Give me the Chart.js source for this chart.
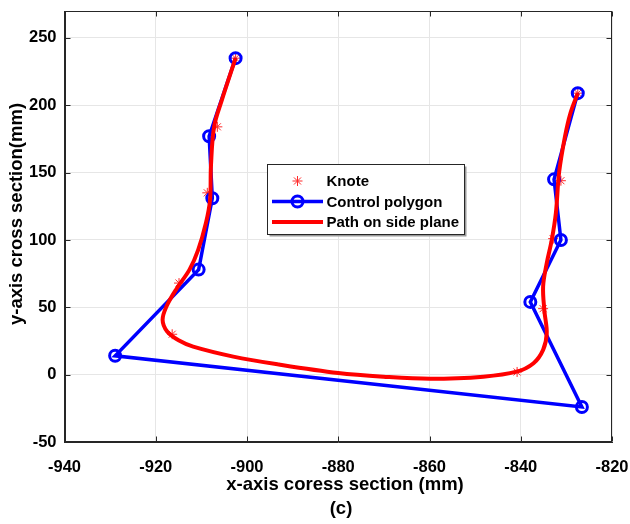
<!DOCTYPE html>
<html>
<head>
<meta charset="utf-8">
<script src="https://cdn.jsdelivr.net/npm/chart.js@4.4.1/dist/chart.umd.min.js"></script>
<style>
  html, body { margin: 0; padding: 0; background: #fff; }
  canvas { display: block; }
</style>
</head>
<body>
<canvas id="chart" width="630" height="524"></canvas>
<script>
// ---- data ----
const xTicks = [-940, -920, -900, -880, -860, -840, -820];
const yTicks = [-50, 0, 50, 100, 150, 200, 250];

const knotX = [-902.5, -906.5, -908.7, -914.9, -916.4, -840.8, -835.1, -832.9, -831.2, -827.5];
const knotY = [235, 184, 135, 68, 30, 2, 49, 101, 144, 209];

const polyX = [-902.5, -908.3, -907.6, -910.6, -928.9, -826.6, -837.9, -831.2, -832.7, -827.5];
const polyY = [235, 177, 131, 78, 14, -24, 54, 100, 145, 209];

const pathX = [-902.5, -905.5, -907.2, -907.9, -908.1, -909.0, -910.7, -912.6, -915.4,
  -917.6, -918.5, -917.5, -915.0, -911.8, -903.0, -893.0, -880.0,
  -870.1, -859.9, -848.2, -840.9, -837.2, -835.1, -834.3, -834.8, -835.1,
  -834.3, -833.2, -832.3, -831.6, -830.3, -829.1, -827.5];
const pathY = [235, 204, 184.3, 155, 129.8, 112.7, 92.7, 78, 64,
  51, 40.7, 32, 25.5, 20.8, 13.4, 7.5, 1.2,
  -1.5, -3.0, -1.5, 2.2, 8.5, 18.4, 30.8, 47, 65.4,
  82.8, 100.1, 120, 150, 176.9, 194.3, 209];

const seriesNames = ['Knote', 'Control polygon', 'Path on side plane'];
const xTitle = 'x-axis coress section (mm)';
const yTitle = 'y-axis cross section(mm)';
const caption = '(c)';

const toPoints = (xs, ys) => xs.map((x, i) => ({ x, y: ys[i] }));

Chart.defaults.font.family = '"Liberation Sans", Arial, Helvetica, sans-serif';
Chart.defaults.font.weight = 'bold';
Chart.defaults.color = '#000';

// frame, inward ticks, titles and legend in MATLAB style
const matlabAxes = {
  id: 'matlabAxes',
  afterDatasetsDraw(chart) {
    const { ctx, chartArea: a, scales } = chart;
    const L = Math.round(a.left) + 0.5, R = Math.round(a.right) - 0.5;
    const T = Math.round(a.top) + 0.5, B = Math.round(a.bottom) - 0.5;
    ctx.save();
    ctx.strokeStyle = '#262626';
    ctx.lineWidth = 1;
    ctx.strokeRect(L, T, R - L, B - T);
    const tl = 5;
    ctx.beginPath();
    xTicks.forEach(v => {
      const px = Math.round(scales.x.getPixelForValue(v)) + 0.5;
      ctx.moveTo(px, B); ctx.lineTo(px, B - tl);
      ctx.moveTo(px, T); ctx.lineTo(px, T + tl);
    });
    yTicks.forEach(v => {
      const py = Math.round(scales.y.getPixelForValue(v)) + 0.5;
      ctx.moveTo(L, py); ctx.lineTo(L + tl, py);
      ctx.moveTo(R, py); ctx.lineTo(R - tl, py);
    });
    ctx.stroke();
    ctx.restore();
  },
  afterDraw(chart) {
    const { ctx } = chart;
    const ds = chart.data.datasets;
    ctx.save();
    ctx.fillStyle = '#000';
    ctx.font = 'bold 18.5px "Liberation Sans", Arial, sans-serif';
    ctx.textAlign = 'center';
    ctx.textBaseline = 'alphabetic';
    ctx.fillText(xTitle, 345, 490);
    ctx.fillText(caption, 341, 514);
    ctx.save();
    ctx.translate(22, 214);
    ctx.rotate(-Math.PI / 2);
    ctx.fillText(yTitle, 0, 0);
    ctx.restore();

    // legend box
    const bx = 267.5, by = 164.5, bw = 197, bh = 70;
    ctx.fillStyle = '#9a9a9a';
    ctx.fillRect(bx + 2, by + 2, bw, bh);
    ctx.fillStyle = '#fff';
    ctx.fillRect(bx, by, bw, bh);
    ctx.strokeStyle = '#262626';
    ctx.lineWidth = 1;
    ctx.strokeRect(bx, by, bw, bh);

    const rows = [181, 201.5, 222];
    const x0 = 272, x1 = 323, xm = 297.5;
    ctx.font = 'bold 15px "Liberation Sans", Arial, sans-serif';
    ctx.textAlign = 'left';
    ctx.textBaseline = 'middle';
    rows.forEach((ry, i) => {
      const d = ds[i];
      if (d.showLine) {
        ctx.strokeStyle = d.borderColor;
        ctx.lineWidth = d.borderWidth;
        ctx.beginPath();
        ctx.moveTo(x0, ry); ctx.lineTo(x1, ry);
        ctx.stroke();
      }
      if (d.pointRadius > 0) {
        ctx.strokeStyle = d.pointBorderColor;
        ctx.lineWidth = d.pointBorderWidth;
        ctx.fillStyle = 'rgba(0,0,0,0)';
        Chart.helpers.drawPoint(ctx, {
          pointStyle: d.pointStyle,
          radius: d.pointRadius,
          borderWidth: d.pointBorderWidth
        }, xm, ry);
      }
      ctx.fillStyle = '#000';
      ctx.fillText(seriesNames[i], 326.5, ry + 1);
    });
    ctx.restore();
  }
};

const noPad = s => { s.paddingTop = 0; s.paddingBottom = 0; s.paddingLeft = 0; s.paddingRight = 0; };

new Chart(document.getElementById('chart'), {
  type: 'scatter',
  data: {
    datasets: [
      {
        label: seriesNames[0],
        data: toPoints(knotX, knotY),
        showLine: false,
        pointStyle: 'star',
        pointRadius: 5,
        pointBorderWidth: 1,
        pointBorderColor: '#ff2a2a',
        pointBackgroundColor: 'rgba(0,0,0,0)',
        borderColor: '#ff0000',
        order: 3
      },
      {
        label: seriesNames[1],
        data: toPoints(polyX, polyY),
        showLine: true,
        borderColor: '#0000ff',
        borderWidth: 3.5,
        pointStyle: 'circle',
        pointRadius: 5.5,
        pointBorderWidth: 3,
        pointBorderColor: '#0000ff',
        pointBackgroundColor: 'rgba(0,0,0,0)',
        order: 2
      },
      {
        label: seriesNames[2],
        data: toPoints(pathX, pathY),
        showLine: true,
        borderColor: '#ff0000',
        borderWidth: 4,
        tension: 0.35,
        pointRadius: 0,
        order: 1
      }
    ]
  },
  options: {
    responsive: false,
    animation: false,
    devicePixelRatio: 1,
    layout: { padding: { top: 11, right: 18, left: 0, bottom: 0 } },
    plugins: { legend: { display: false }, tooltip: { enabled: false } },
    scales: {
      x: {
        type: 'linear',
        min: -940,
        max: -820,
        afterBuildTicks: s => { s.ticks = xTicks.map(v => ({ value: v })); },
        afterFit: s => { s.height = 82; noPad(s); },
        ticks: { font: { size: 16.5, weight: 'bold' }, color: '#000', padding: 16 },
        grid: { color: '#e6e6e6', drawTicks: false },
        border: { color: '#262626', width: 1 }
      },
      y: {
        type: 'linear',
        min: -50,
        max: 270,
        afterBuildTicks: s => { s.ticks = yTicks.map(v => ({ value: v })); },
        afterFit: s => { s.width = 64.5; noPad(s); },
        ticks: { font: { size: 16.5, weight: 'bold' }, color: '#000', padding: 8 },
        grid: { color: '#e6e6e6', drawTicks: false },
        border: { color: '#262626', width: 1 }
      }
    }
  },
  plugins: [matlabAxes]
});
</script>
</body>
</html>
